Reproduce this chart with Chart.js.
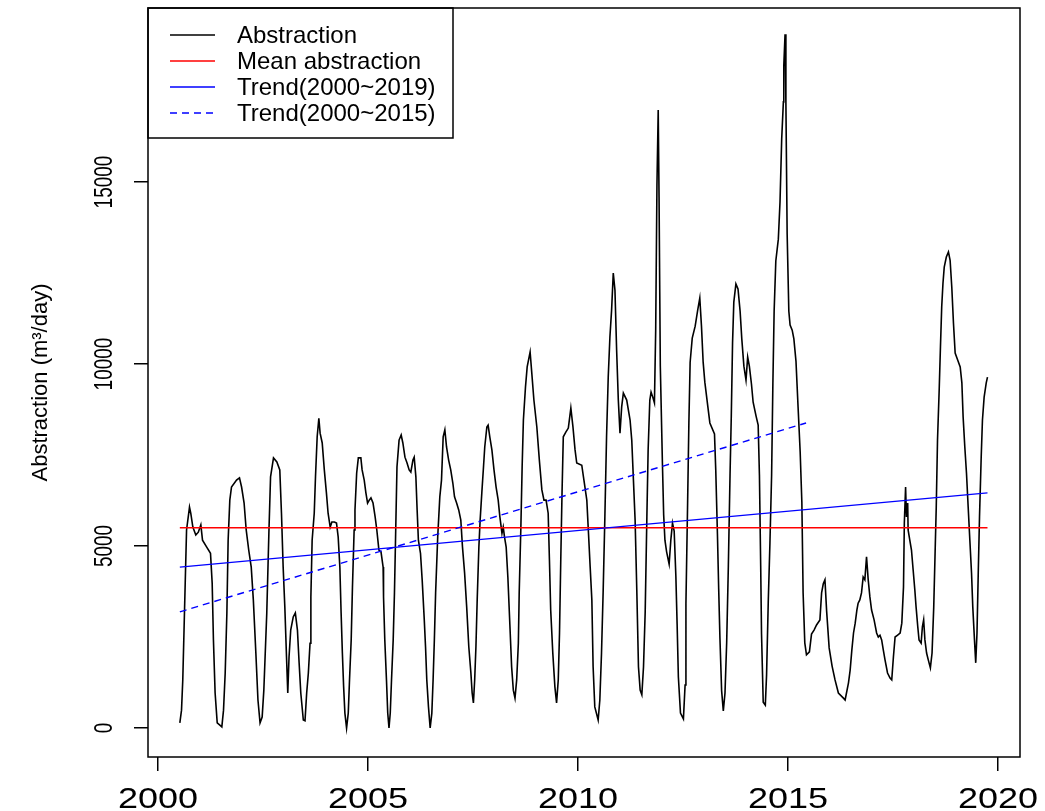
<!DOCTYPE html>
<html>
<head>
<meta charset="utf-8">
<script src="https://cdn.jsdelivr.net/npm/chart.js@4/dist/chart.umd.min.js"></script>
<style>
  body { margin: 0; background: #fff; }
</style>
</head>
<body>
<canvas id="abstractionChart" width="1045" height="811"></canvas>
<script>
// decimal year of each reading
const years = [
  2000.52, 2000.56, 2000.59, 2000.62, 2000.65, 2000.68, 2000.75, 2000.78, 2000.83, 2000.90,
  2000.96, 2001.02, 2001.06, 2001.16, 2001.25, 2001.29, 2001.32, 2001.36, 2001.41, 2001.52,
  2001.56, 2001.60, 2001.64, 2001.67, 2001.71, 2001.75, 2001.87, 2001.94, 2001.99, 2002.05,
  2002.10, 2002.16, 2002.22, 2002.27, 2002.33, 2002.38, 2002.43, 2002.48, 2002.52, 2002.59,
  2002.64, 2002.68, 2002.75, 2002.83, 2002.90, 2002.94, 2002.98, 2003.02, 2003.06, 2003.09,
  2003.12, 2003.16, 2003.22, 2003.27, 2003.32, 2003.36, 2003.40, 2003.46, 2003.50, 2003.54,
  2003.58, 2003.62, 2003.64, 2003.67, 2003.72, 2003.75, 2003.79, 2003.83, 2003.86, 2003.91,
  2003.96, 2004.01, 2004.05, 2004.10, 2004.14, 2004.20, 2004.25, 2004.29, 2004.33, 2004.36,
  2004.39, 2004.42, 2004.45, 2004.49, 2004.53, 2004.56, 2004.60, 2004.63, 2004.67, 2004.69,
  2004.73, 2004.77, 2004.83, 2004.86, 2004.91, 2004.95, 2004.99, 2005.03, 2005.07, 2005.12,
  2005.17, 2005.21, 2005.26, 2005.31, 2005.36, 2005.37, 2005.40, 2005.44, 2005.47, 2005.50,
  2005.53, 2005.56, 2005.60, 2005.63, 2005.66, 2005.69, 2005.74, 2005.79, 2005.83, 2005.88,
  2005.93, 2005.98, 2006.02, 2006.07, 2006.10, 2006.14, 2006.17, 2006.20, 2006.25, 2006.29,
  2006.34, 2006.37, 2006.40, 2006.44, 2006.48, 2006.52, 2006.55, 2006.58, 2006.61, 2006.66,
  2006.71, 2006.75, 2006.79, 2006.83, 2006.87, 2006.92, 2006.97, 2007.02, 2007.06, 2007.11,
  2007.16, 2007.21, 2007.25, 2007.30, 2007.35, 2007.40, 2007.45, 2007.48, 2007.51, 2007.54,
  2007.57, 2007.60, 2007.64, 2007.67, 2007.71, 2007.75, 2007.78, 2007.83, 2007.86, 2007.90,
  2007.95, 2008.00, 2008.05, 2008.10, 2008.14, 2008.19, 2008.22, 2008.25, 2008.29, 2008.33,
  2008.38, 2008.42, 2008.46, 2008.50, 2008.54, 2008.58, 2008.60, 2008.64, 2008.67, 2008.70,
  2008.75, 2008.79, 2008.86, 2008.90, 2008.95, 2009.02, 2009.08, 2009.14, 2009.19, 2009.24,
  2009.29, 2009.32, 2009.35, 2009.40, 2009.45, 2009.49, 2009.53, 2009.56, 2009.59, 2009.62,
  2009.65, 2009.71, 2009.77, 2009.83, 2009.88, 2009.93, 2009.97, 2010.09, 2010.13, 2010.21,
  2010.25, 2010.29, 2010.33, 2010.36, 2010.40, 2010.48, 2010.52, 2010.56, 2010.60, 2010.64,
  2010.68, 2010.72, 2010.76, 2010.80, 2010.84, 2010.88, 2010.92, 2010.96, 2011.00, 2011.04,
  2011.08, 2011.16, 2011.24, 2011.28, 2011.32, 2011.36, 2011.40, 2011.44, 2011.48, 2011.52,
  2011.56, 2011.60, 2011.64, 2011.67, 2011.71, 2011.74, 2011.78, 2011.82, 2011.85, 2011.88,
  2011.91, 2011.93, 2011.96, 2012.01, 2012.04, 2012.07, 2012.11, 2012.17, 2012.21, 2012.25,
  2012.29, 2012.33, 2012.36, 2012.39, 2012.44, 2012.51, 2012.55, 2012.57, 2012.61, 2012.64,
  2012.67, 2012.72, 2012.79, 2012.85, 2012.90, 2012.94, 2012.98, 2013.02, 2013.09, 2013.14,
  2013.25, 2013.28, 2013.32, 2013.35, 2013.38, 2013.42, 2013.46, 2013.50, 2013.54, 2013.58,
  2013.62, 2013.65, 2013.68, 2013.71, 2013.76, 2013.81, 2013.86, 2013.90, 2013.95, 2014.00,
  2014.04, 2014.08, 2014.13, 2014.17, 2014.24, 2014.29, 2014.32, 2014.35, 2014.37, 2014.41,
  2014.46, 2014.49, 2014.53, 2014.57, 2014.61, 2014.64, 2014.67, 2014.71, 2014.77, 2014.81,
  2014.85, 2014.89, 2014.90, 2014.93, 2014.95, 2014.98, 2015.02, 2015.05, 2015.10, 2015.14,
  2015.19, 2015.24, 2015.29, 2015.33, 2015.36, 2015.40, 2015.44, 2015.51, 2015.56, 2015.62,
  2015.68, 2015.76, 2015.80, 2015.84, 2015.88, 2015.92, 2015.98, 2016.05, 2016.12, 2016.20,
  2016.32, 2016.36, 2016.44, 2016.48, 2016.52, 2016.56, 2016.60, 2016.64, 2016.67, 2016.71,
  2016.75, 2016.79, 2016.83, 2016.87, 2016.91, 2016.95, 2016.99, 2017.05, 2017.11, 2017.15,
  2017.19, 2017.23, 2017.27, 2017.31, 2017.37, 2017.43, 2017.47, 2017.51, 2017.55, 2017.61,
  2017.67, 2017.71, 2017.75, 2017.77, 2017.80, 2017.82, 2017.85, 2017.86, 2017.90, 2017.94,
  2017.98, 2018.02, 2018.05, 2018.09, 2018.12, 2018.17, 2018.20, 2018.23, 2018.26, 2018.30,
  2018.34, 2018.39, 2018.43, 2018.47, 2018.50, 2018.53, 2018.56, 2018.60, 2018.63, 2018.66,
  2018.69, 2018.72, 2018.77, 2018.82, 2018.86, 2018.90, 2018.94, 2018.98, 2019.04, 2019.10,
  2019.14, 2019.17, 2019.21, 2019.25, 2019.29, 2019.33, 2019.37, 2019.40, 2019.44, 2019.47,
  2019.50, 2019.53, 2019.56, 2019.60, 2019.63, 2019.67, 2019.72, 2019.75
];

// abstraction, m3/day
const abstraction = [
  140, 490, 1320, 2690, 4070, 5440, 6070, 5900, 5520, 5300,
  5380, 5580, 5160, 4970, 4800, 3980, 2420, 960, 140, 30,
  490, 1510, 3160, 5160, 6260, 6620, 6810, 6870, 6620, 6180,
  5440, 4890, 4420, 3520, 2060, 770, 140, 300, 1040, 3160,
  5350, 6900, 7420, 7310, 7090, 5900, 4420, 3320, 1950, 960,
  1950, 2690, 3050, 3160, 2690, 1790, 960, 220, 200, 960,
  1510, 2330, 3600, 5160, 5900, 6900, 8000, 8510, 8100, 7830,
  7090, 6460, 5900, 5520, 5660, 5660, 5630, 5250, 4420, 3160,
  2060, 1130, 410, 0, 410, 1320, 2420, 3870, 5440, 5990,
  7000, 7420, 7420, 7090, 6810, 6460, 6180, 6260, 6320, 6180,
  5800, 5440, 4890, 4840, 4420, 3600, 2420, 1320, 410, 0,
  410, 1320, 2420, 3710, 5440, 7170, 7910, 8050, 7830, 7440,
  7280, 7090, 7030, 7360, 7440, 6900, 5990, 5160, 4800, 4070,
  2970, 2230, 1320, 580, 0, 410, 1320, 2420, 3710, 5250,
  6350, 6810, 8000, 8190, 7720, 7360, 7090, 6730, 6350, 6180,
  5990, 5710, 4970, 4260, 3320, 2230, 1510, 960, 690, 1320,
  2230, 3520, 4970, 5710, 6460, 7170, 7720, 8270, 8320, 8000,
  7640, 7090, 6620, 6260, 5800, 5350, 5520, 5250, 4970, 4150,
  2780, 1680, 1040, 820, 1320, 2330, 3710, 5520, 7170, 8460,
  9370, 9920, 10330, 9750, 9010, 8270, 7360, 6540, 6260, 6260,
  5900, 4620, 3240, 2060, 1130, 690, 1320, 2610, 4620, 6460,
  8000, 8130, 8240, 8790, 8270, 7640, 7280, 7220, 6900, 6260,
  5350, 4420, 3520, 1680, 580, 220, 770, 2060, 3790, 5800,
  8000, 9640, 10740, 11480, 12500, 12030, 10380, 9010, 8100, 8820,
  9200, 9010, 8460, 7910, 6810, 5710, 3790, 1680, 1040, 910,
  1680, 3190, 5800, 7640, 9010, 9230, 9090, 8930, 10930, 14920,
  16980, 14590, 9940, 7280, 5850, 5160, 4840, 4500, 5160, 5630,
  5410, 4180, 2860, 1400, 410, 250, 1180, 3410, 6180, 8380,
  10050, 10710, 11040, 11480, 11810, 11040, 10050, 9500, 8840, 8380,
  8080, 7090, 5330, 3820, 2450, 1020, 470, 960, 2340, 4450,
  6950, 8570, 10580, 11700, 12200, 12060, 11450, 10690, 9940, 9560,
  10190, 9940, 9450, 8950, 8570, 8320, 6950, 4450, 2580, 710,
  630, 1460, 3460, 5080, 6950, 9450, 11450, 12830, 13430, 14450,
  16180, 17200, 18190, 19060, 17200, 13570, 11450, 11070, 10930, 10690,
  10080, 8820, 7580, 6210, 3710, 2340, 2010, 2090, 2580, 2690,
  2830, 2970, 3710, 3960, 4070, 3210, 2200, 1700, 1320, 960,
  820, 770, 1240, 1590, 2140, 2610, 2880, 3240, 3430, 3520,
  3710, 4150, 4070, 4700, 4070, 3600, 3240, 2970, 2610, 2500,
  2550, 2420, 2140, 1870, 1510, 1370, 1320, 1950, 2500, 2550,
  2610, 2880, 3870, 5630, 6620, 5800, 6180, 5440, 5160, 4890,
  4340, 3790, 3320, 2780, 2420, 2330, 2780, 2970, 2420, 2060,
  1870, 1650, 2060, 3320, 4700, 6070, 7910, 9290, 10470, 11570,
  12220, 12660, 12940, 13080, 12850, 12110, 11120, 10300, 10110, 9920,
  9480, 8540, 7720, 7000, 6070, 5160, 4260, 3320, 2420, 1790,
  2610, 4260, 5800, 7440, 8460, 9090, 9480, 9640
];

const meanYears = [2000.52, 2019.75];
const meanValues = [5500, 5500];
const trendYears = [2000.52, 2019.75];
const trendValues = [4420, 6460];
const trend15Years = [2000.52, 2015.43];
const trend15Values = [3190, 8380];

const xTicks = [2000, 2005, 2010, 2015, 2020];
const yTicks = [0, 5000, 10000, 15000];
const seriesLabels = ['Abstraction', 'Mean abstraction', 'Trend(2000~2019)', 'Trend(2000~2015)'];

const FONT = '"Liberation Sans", Arial, sans-serif';
Chart.defaults.font.family = FONT;
Chart.defaults.color = '#000';

function toPoints(xs, ys) {
    return xs.map((x, i) => ({ x: x, y: ys[i] }));
}

// text with an optional stretch across the glyphs, like the wide R labels
function stretchedText(ctx, text, x, y, angle, sx) {
    ctx.save();
    ctx.translate(x, y);
    ctx.rotate(angle);
    ctx.scale(sx, 1);
    ctx.fillText(text, 0, 0);
    ctx.restore();
}

// R style box, axis labels and boxed legend
const rStyle = {
    id: 'rStyle',
    afterDraw(chart) {
        const { ctx, chartArea: a, scales } = chart;
        ctx.save();
        ctx.strokeStyle = '#000';
        ctx.lineWidth = 1.5;
        ctx.setLineDash([]);
        ctx.strokeRect(a.left, a.top, a.right - a.left, a.bottom - a.top);

        ctx.fillStyle = '#000';
        ctx.textAlign = 'center';

        // x tick labels
        ctx.font = '30px ' + FONT;
        ctx.textBaseline = 'middle';
        xTicks.forEach(v => {
            stretchedText(ctx, String(v), scales.x.getPixelForValue(v), 800, 0, 1.2);
        });

        // y tick labels, rotated as in R
        ctx.font = '19px ' + FONT;
        ctx.textBaseline = 'alphabetic';
        yTicks.forEach(v => {
            ctx.save();
            ctx.translate(112, scales.y.getPixelForValue(v));
            ctx.rotate(-Math.PI / 2);
            ctx.scale(1, 1.4);
            ctx.fillText(String(v), 0, 0);
            ctx.restore();
        });

        // legend
        ctx.font = '24px ' + FONT;
        ctx.lineWidth = 1.5;
        ctx.strokeRect(a.left, a.top, 305, 130);
        ctx.textAlign = 'left';
        ctx.textBaseline = 'middle';
        chart.data.datasets.forEach((ds, i) => {
            const y = a.top + 27 + i * 26;
            ctx.strokeStyle = ds.borderColor;
            ctx.lineWidth = 1.4;
            ctx.setLineDash(ds.borderDash || []);
            ctx.beginPath();
            ctx.moveTo(a.left + 22, y);
            ctx.lineTo(a.left + 67, y);
            ctx.stroke();
            ctx.fillText(ds.label, a.left + 89, y + 1);
        });
        ctx.restore();
    }
};

new Chart(document.getElementById('abstractionChart'), {
    type: 'line',
    data: {
        datasets: [
            {
                label: seriesLabels[0],
                data: toPoints(years, abstraction),
                borderColor: '#000',
                borderWidth: 1.6,
                order: 4
            },
            {
                label: seriesLabels[1],
                data: toPoints(meanYears, meanValues),
                borderColor: '#ff0000',
                borderWidth: 1.4,
                order: 3
            },
            {
                label: seriesLabels[2],
                data: toPoints(trendYears, trendValues),
                borderColor: '#0000ff',
                borderWidth: 1.4,
                order: 2
            },
            {
                label: seriesLabels[3],
                data: toPoints(trend15Years, trend15Values),
                borderColor: '#0000ff',
                borderWidth: 1.4,
                borderDash: [7, 5],
                order: 1
            }
        ]
    },
    options: {
        responsive: false,
        animation: false,
        devicePixelRatio: 1,
        events: [],
        elements: {
            point: { radius: 0 },
            line: { tension: 0, fill: false }
        },
        layout: { padding: { left: 0, right: 25, top: 8, bottom: 0 } },
        plugins: {
            legend: { display: false },
            tooltip: { enabled: false }
        },
        scales: {
            x: {
                type: 'linear',
                min: 1999.762,
                max: 2020.524,
                afterBuildTicks: s => { s.ticks = xTicks.map(v => ({ value: v })); },
                afterFit: s => { s.height = 54; s.paddingLeft = 0; s.paddingRight = 0; },
                ticks: { display: false },
                grid: {
                    drawOnChartArea: false,
                    drawTicks: true,
                    tickLength: 14,
                    color: '#000',
                    lineWidth: 1.5
                },
                border: { display: false }
            },
            y: {
                type: 'linear',
                min: -797,
                max: 19780,
                afterBuildTicks: s => { s.ticks = yTicks.map(v => ({ value: v })); },
                afterFit: s => { s.width = 148; s.paddingTop = 0; s.paddingBottom = 0; },
                ticks: { display: false },
                grid: {
                    drawOnChartArea: false,
                    drawTicks: true,
                    tickLength: 14,
                    color: '#000',
                    lineWidth: 1.5
                },
                border: { display: false },
                title: {
                    display: true,
                    text: 'Abstraction (m³/day)',
                    font: { size: 22 },
                    color: '#000',
                    padding: { top: 28, bottom: 0 }
                }
            }
        }
    },
    plugins: [rStyle]
});
</script>
</body>
</html>
